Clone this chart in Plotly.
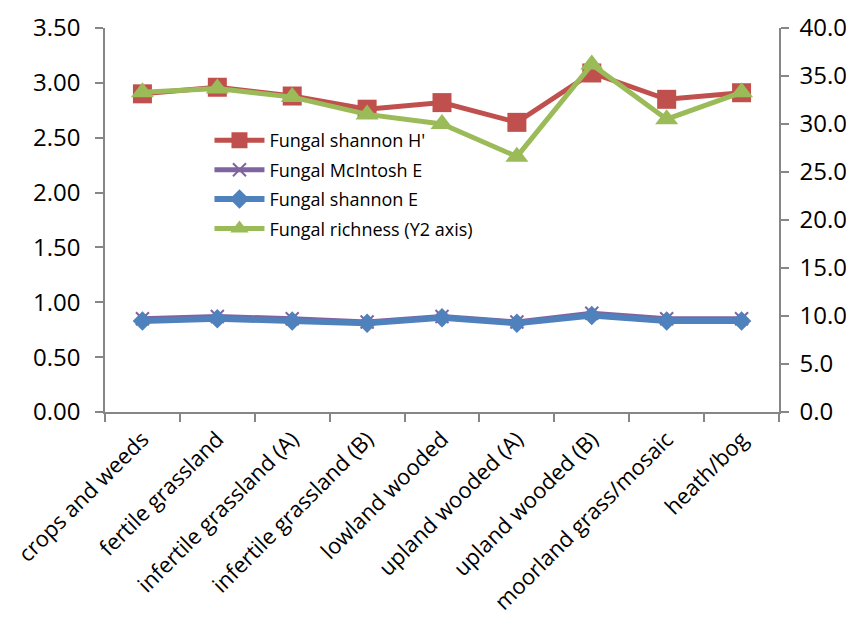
import plotly.graph_objects as go

categories = ["crops and weeds", "fertile grassland", "infertile grassland (A)",
              "infertile grassland (B)", "lowland wooded", "upland wooded (A)",
              "upland wooded (B)", "moorland grass/mosaic", "heath/bog"]
shannon_H = [2.90, 2.96, 2.88, 2.76, 2.82, 2.64, 3.09, 2.85, 2.91]
mcintosh_E = [0.85, 0.87, 0.85, 0.82, 0.87, 0.82, 0.90, 0.85, 0.85]
shannon_E = [0.83, 0.85, 0.83, 0.81, 0.86, 0.81, 0.88, 0.83, 0.83]
richness = [33.3, 33.7, 32.8, 31.0, 30.0, 26.6, 36.2, 30.5, 33.3]

left_ticks = [0, 0.5, 1.0, 1.5, 2.0, 2.5, 3.0, 3.5]
right_ticks = [0, 5, 10, 15, 20, 25, 30, 35, 40]

FONT = "Open Sans"
AXIS_COLOR = "#868686"

fig = go.Figure()
fig.add_trace(go.Scatter(x=categories, y=shannon_H, name="Fungal shannon H'",
                         mode="lines+markers", legendgroup="a",
                         line=dict(color="#C0504D", width=5),
                         marker=dict(symbol="square", size=19, color="#C0504D")))
fig.add_trace(go.Scatter(x=categories, y=mcintosh_E, name="Fungal McIntosh E",
                         mode="lines+markers", legendgroup="b",
                         line=dict(color="#8064A2", width=5),
                         marker=dict(symbol="x-thin", size=13,
                                     line=dict(color="#8064A2", width=2))))
fig.add_trace(go.Scatter(x=categories, y=shannon_E, name="Fungal shannon E",
                         mode="lines+markers", legendgroup="c",
                         line=dict(color="#4F81BD", width=6),
                         marker=dict(symbol="diamond", size=15, color="#4F81BD")))
fig.add_trace(go.Scatter(x=categories, y=richness, name="Fungal richness (Y2 axis)",
                         mode="lines+markers", yaxis="y2", legendgroup="d",
                         line=dict(color="#9BBB59", width=5),
                         marker=dict(symbol="triangle-up", size=20, color="#9BBB59")))

fig.update_layout(
    width=854, height=628,
    margin=dict(l=97, r=83, t=20, b=224, autoexpand=False),
    paper_bgcolor="white", plot_bgcolor="white",
    font=dict(family=FONT, size=24, color="black"),
    showlegend=True,
    legend=dict(x=0.155, y=0.755, xanchor="left", yanchor="top",
                bgcolor="rgba(0,0,0,0)", font=dict(size=18, color="black"),
                traceorder="grouped", tracegroupgap=3, itemwidth=50),
    xaxis=dict(type="category", showgrid=False, showline=True, automargin=False,
               linecolor=AXIS_COLOR, linewidth=1.5,
               ticks="outside", tickson="boundaries", ticklen=8,
               tickcolor=AXIS_COLOR, tickwidth=1.5, tickangle=-45,
               tickfont=dict(size=22), range=[-0.5, 8.5], ticklabelstandoff=4),
    yaxis=dict(range=[0, 3.5], tickvals=left_ticks, tickformat=".2f",
               showgrid=False, zeroline=False, showline=True, automargin=False,
               linecolor=AXIS_COLOR, linewidth=1.5,
               ticks="outside", ticklen=8, tickcolor=AXIS_COLOR, tickwidth=1.5,
               tickfont=dict(size=24), ticklabelstandoff=10),
    yaxis2=dict(range=[0, 40], tickvals=right_ticks, tickformat=".1f",
                overlaying="y", side="right", automargin=False,
                showgrid=False, zeroline=False, showline=True,
                linecolor=AXIS_COLOR, linewidth=1.5,
                ticks="outside", ticklen=8, tickcolor=AXIS_COLOR, tickwidth=1.5,
                tickfont=dict(size=24), ticklabelstandoff=6),
)

fig.write_html("out.html")
